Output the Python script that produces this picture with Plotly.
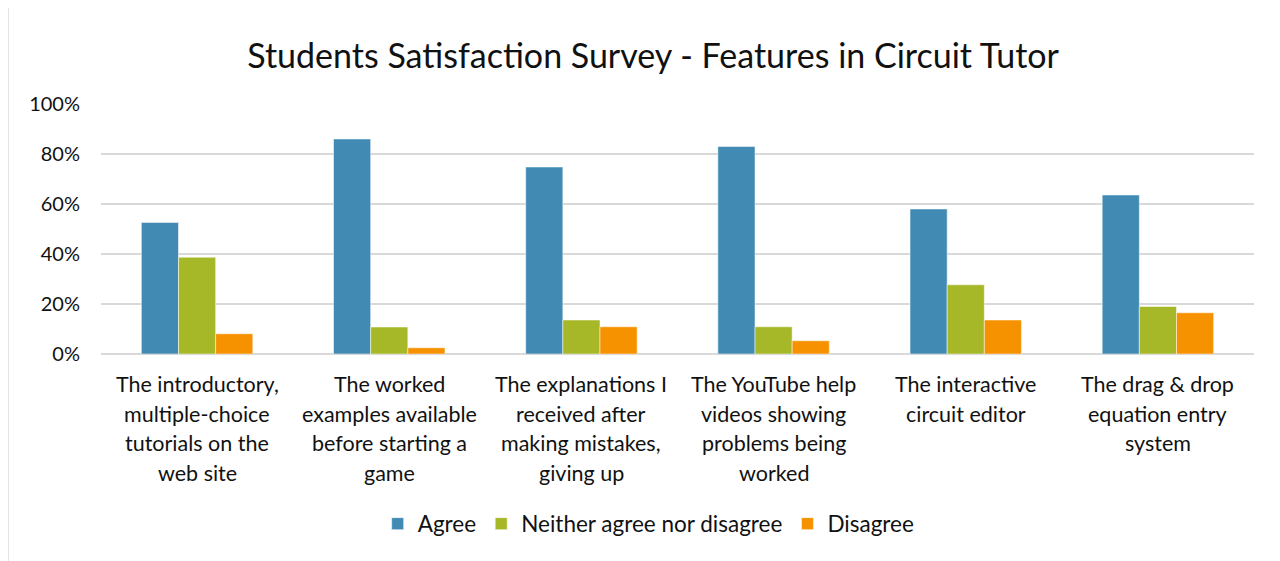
import plotly.graph_objects as go

categories = [
    "The introductory,<br>multiple-choice<br>tutorials on the<br>web site",
    "The worked<br>examples available<br>before starting a<br>game",
    "The explanations I<br>received after<br>making mistakes,<br>giving up",
    "The YouTube help<br>videos showing<br>problems being<br>worked",
    "The interactive<br>circuit editor",
    "The drag & drop<br>equation entry<br>system",
]
agree = [52.6, 86.0, 74.8, 83.0, 58.0, 63.6]
neither = [38.7, 10.8, 13.6, 10.9, 27.7, 19.0]
disagree = [8.1, 2.5, 10.9, 5.3, 13.6, 16.5]
series_names = ["Agree", "Neither agree nor disagree", "Disagree"]
colors = ["#418AB3", "#A6B727", "#F69200"]
y_ticks = [0, 20, 40, 60, 80, 100]
y_tick_labels = [f"{v}%" for v in y_ticks]

FONT = "Lato"
keys = [f"c{i}" for i in range(len(categories))]

fig = go.Figure()
for name, vals, col in zip(series_names, [agree, neither, disagree], colors):
    fig.add_trace(go.Bar(
        x=keys, y=vals, name=name,
        marker=dict(color=col, line=dict(color="rgba(255,255,255,0.5)", width=1)),
    ))

annotations = []
for k, label in zip(keys, categories):
    for i, line in enumerate(label.split("<br>")):
        annotations.append(dict(
            x=k, y=0, xref="x", yref="paper", text=line, showarrow=False,
            yanchor="middle", xanchor="center", yshift=-30 - 29.5 * i,
            font=dict(family=FONT, size=21.5, color="#111111"),
        ))

fig.update_layout(
    width=1280, height=561,
    margin=dict(l=93, r=34, t=96, b=215),
    paper_bgcolor="white", plot_bgcolor="white",
    title=dict(text="Students Satisfaction Survey - Features in Circuit Tutor",
               x=0.504, xanchor="center", y=0.915, yanchor="middle",
               font=dict(family=FONT, size=34, color="#111111")),
    barmode="group", bargap=0.42, bargroupgap=0,
    legend=dict(orientation="h", x=0.475, xanchor="center", y=-0.68, yanchor="middle",
                font=dict(family=FONT, size=22.5, color="#111111"),
                itemwidth=30, tracegroupgap=0),
    annotations=annotations,
    shapes=[
        dict(type="line", xref="paper", yref="paper", x0=-0.0807, x1=-0.0807,
             y0=1.396, y1=-1.0, line=dict(color="#d9d9d9", width=1.5)),
        dict(type="line", xref="paper", yref="paper", x0=-0.0807, x1=1.04,
             y0=1.396, y1=1.396, line=dict(color="#d9d9d9", width=1.5)),
    ],
)
fig.update_xaxes(showticklabels=False, showgrid=False, zeroline=False,
                 showline=False, ticks="")
fig.update_yaxes(range=[0, 100], tickmode="array", tickvals=y_ticks, ticktext=y_tick_labels,
                 showgrid=True, gridcolor="#d9d9d9", gridwidth=1.8,
                 zeroline=True, zerolinecolor="#d9d9d9", zerolinewidth=1.8,
                 showline=False, ticks="", ticklabelstandoff=20,
                 tickfont=dict(family=FONT, size=20, color="#111111"))

fig.write_html("out.html")
